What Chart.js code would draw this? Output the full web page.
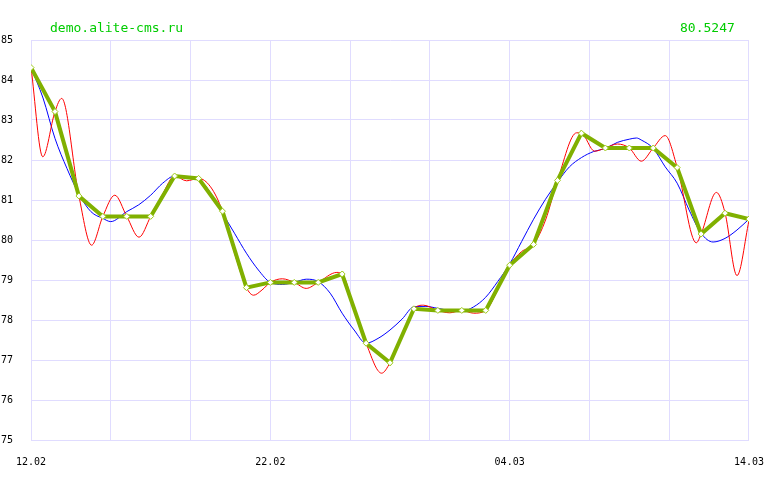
<!DOCTYPE html>
<html>
<head>
<meta charset="utf-8">
<script src="https://cdn.jsdelivr.net/npm/chart.js@4"></script>
<style>
    body { margin: 0; background: #fff; }
    #box { position: relative; width: 780px; height: 480px; }
    .head { position: absolute; top: 20px; font: 13px "DejaVu Sans Mono", monospace; color: #00cc00; }
    #site { left: 50px; }
    #last { left: 680px; }
</style>
</head>
<body>
<div id="box">
    <canvas id="grafico" width="780" height="480"></canvas>
    <div class="head" id="site">demo.alite-cms.ru</div>
    <div class="head" id="last"></div>
</div>
<script>
// dias
const dias = ['12.02', '13.02', '14.02', '15.02', '16.02', '17.02', '18.02', '19.02', '20.02', '21.02',
    '22.02', '23.02', '24.02', '25.02', '26.02', '27.02', '28.02', '01.03', '02.03', '03.03',
    '04.03', '05.03', '06.03', '07.03', '08.03', '09.03', '10.03', '11.03', '12.03', '13.03', '14.03'];

// valores por dia
const valores = [84.31, 83.21, 81.10, 80.59, 80.59, 80.59, 81.60, 81.54, 80.72, 78.81,
    78.94, 78.94, 78.94, 79.15, 77.42, 76.93, 78.28, 78.24, 78.24, 78.24,
    79.37, 79.89, 81.49, 82.67, 82.30, 82.30, 82.30, 81.81, 80.15, 80.67, 80.5247];

// curva roja (posicion en dias, valor)
const rojoPos = [0, 0.49, 1, 1.28, 2, 2.53, 3, 3.5, 4, 4.51, 5, 5.5, 6, 6.5, 7, 7.5, 8, 8.5, 9, 9.3, 9.65,
    10, 10.5, 11, 11.5, 12, 12.78, 13, 13.5, 14, 14.65, 15, 15.5, 16, 16.4, 17, 17.5, 18, 18.5, 19, 19.5,
    20, 20.5, 21, 21.5, 22, 22.8, 23, 23.55, 24, 24.5, 25, 25.5, 26, 26.5, 27, 27.8, 28, 28.64, 29, 29.5, 30];
const rojoVal = [84.31, 82.08, 83.21, 83.54, 81.10, 79.87, 80.59, 81.12, 80.59, 80.07, 80.59, 81.15, 81.60, 81.48, 81.54, 81.33, 80.72, 79.68, 78.81, 78.62, 78.75,
    78.94, 79.03, 78.94, 78.79, 78.94, 79.19, 79.15, 78.30, 77.42, 76.67, 76.93, 77.60, 78.28, 78.37, 78.24, 78.18, 78.24, 78.17, 78.24, 78.75,
    79.37, 79.71, 79.89, 80.50, 81.49, 82.68, 82.67, 82.22, 82.30, 82.40, 82.30, 81.97, 82.30, 82.61, 81.82, 79.93, 80.15, 81.19, 80.68, 79.11, 80.48];

// curva azul
const azulPos = [0, 0.5, 1, 1.5, 2, 2.5, 3, 3.33, 4, 4.5, 5, 5.5, 6, 6.5, 7, 7.5, 8, 8.5, 9, 9.5,
    10, 10.5, 11, 11.5, 12, 12.5, 13, 13.5, 14, 14.5, 15, 15.5, 16, 16.5, 17, 17.5, 18, 18.5, 19, 19.5,
    20, 20.5, 21, 21.5, 22, 22.5, 23, 23.5, 24, 24.5, 25, 25.3, 25.5, 26, 26.5, 27, 27.5, 28, 28.5, 29, 29.5, 30];
const azulVal = [84.31, 83.55, 82.54, 81.79, 81.15, 80.71, 80.54, 80.46, 80.71, 80.88, 81.12, 81.42, 81.60, 81.58, 81.52, 81.18, 80.67, 80.17, 79.67, 79.25,
    78.94, 78.89, 78.94, 79.02, 78.96, 78.67, 78.17, 77.75, 77.42, 77.54, 77.75, 78.02, 78.33, 78.34, 78.29, 78.24, 78.22, 78.33, 78.57, 78.96,
    79.40, 79.96, 80.52, 81.02, 81.45, 81.83, 82.06, 82.21, 82.29, 82.44, 82.52, 82.55, 82.50, 82.29, 81.83, 81.42, 80.75, 80.17, 79.95, 80.04, 80.25, 80.52];

const puntos = (xs, ys) => xs.map((x, i) => ({ x: x, y: ys[i] }));

document.getElementById('last').textContent = valores[valores.length - 1].toFixed(4);

const colorGrid = 'rgb(224, 220, 255)';
const fuente = { family: '"DejaVu Sans Mono", monospace', size: 10 };

new Chart(document.getElementById('grafico'), {
    type: 'line',
    data: {
        datasets: [{
            data: puntos(valores.map((v, i) => i), valores),
            borderColor: '#80b000',
            borderWidth: 4,
            pointStyle: 'rectRot',
            pointRadius: 3,
            pointBorderWidth: 1,
            pointBorderColor: '#a0cc20',
            pointBackgroundColor: '#ffffff',
            tension: 0,
            order: 0
        }, {
            data: puntos(rojoPos, rojoVal),
            borderColor: '#ff0000',
            borderWidth: 1,
            pointRadius: 0,
            cubicInterpolationMode: 'monotone',
            order: 1
        }, {
            data: puntos(azulPos, azulVal),
            borderColor: '#0000ff',
            borderWidth: 1,
            pointRadius: 0,
            cubicInterpolationMode: 'monotone',
            order: 2
        }]
    },
    options: {
        responsive: false,
        animation: false,
        devicePixelRatio: 1,
        layout: { padding: { top: 40, right: 30, left: 0, bottom: 0 } },
        plugins: { legend: { display: false }, tooltip: { enabled: false } },
        scales: {
            x: {
                type: 'linear',
                min: 0,
                max: 30,
                afterBuildTicks: (s) => {
                    s.ticks = [0, 1, 2, 3, 4, 5, 6, 7, 8, 9].map(k => ({ value: k * 10 / 3 }));
                },
                afterFit: (s) => { s.height = 40; },
                grid: { color: colorGrid, drawTicks: false },
                border: { color: colorGrid },
                ticks: {
                    padding: 16,
                    maxRotation: 0,
                    autoSkip: false,
                    color: '#000',
                    font: fuente,
                    callback: (v) => {
                        const i = Math.round(v);
                        return (Math.abs(v - i) < 1e-6 && i % 10 === 0) ? dias[i] : '';
                    }
                }
            },
            y: {
                min: 75,
                max: 85,
                afterFit: (s) => { s.width = 30; },
                grid: { color: colorGrid, drawTicks: false },
                border: { color: colorGrid },
                ticks: {
                    stepSize: 1,
                    crossAlign: 'far',
                    padding: 4,
                    color: '#000',
                    font: fuente
                }
            }
        }
    }
});
</script>
</body>
</html>
